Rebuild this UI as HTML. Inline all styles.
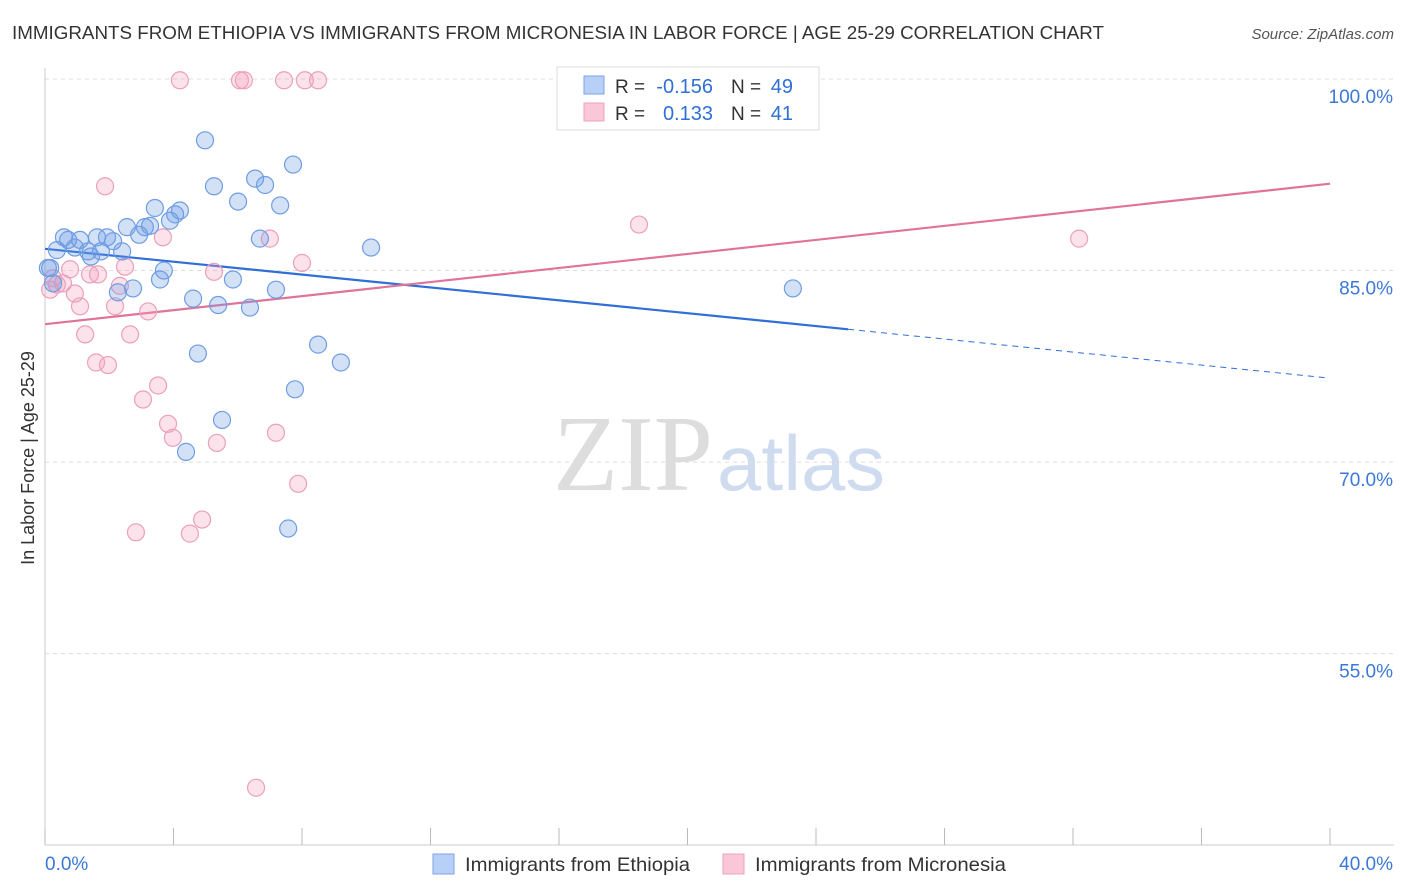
<!DOCTYPE html>
<html><head><meta charset="utf-8"><style>
body{margin:0;background:#fff;font-family:"Liberation Sans",sans-serif;}
svg{display:block}
</style></head><body>
<svg id="chart" width="1406" height="892">
<text x="12" y="39" font-size="18" fill="#333" textLength="1092" lengthAdjust="spacingAndGlyphs">IMMIGRANTS FROM ETHIOPIA VS IMMIGRANTS FROM MICRONESIA IN LABOR FORCE | AGE 25-29 CORRELATION CHART</text>
<text x="1394" y="39" font-size="15" fill="#555" font-style="italic" text-anchor="end">Source: ZipAtlas.com</text>
<text transform="translate(34,458) rotate(-90)" font-size="18" fill="#333" text-anchor="middle">In Labor Force | Age 25-29</text>
<text x="553" y="490" font-size="108" fill="#ddd" font-family="Liberation Serif,serif" textLength="160" lengthAdjust="spacingAndGlyphs">ZIP</text>
<text x="717" y="490" font-size="78" fill="#cfdcf0" textLength="168" lengthAdjust="spacingAndGlyphs">atlas</text>
<g id="grid"></g><g id="axes"></g><g id="trends"></g><g id="pts"></g>
<g>
<rect x="557" y="67" width="262" height="63" fill="#fff" stroke="#ddd"/>
<rect x="584" y="76" width="20" height="18" fill="#b8d0f5" stroke="#7aa4e6"/>
<rect x="584" y="103" width="20" height="18" fill="#f9c7d8" stroke="#eea2bd"/>
<text x="615" y="93" font-size="19" fill="#333">R =</text>
<text x="713" y="93" font-size="20" fill="#2f6fd6" text-anchor="end">-0.156</text>
<text x="731" y="93" font-size="19" fill="#333">N =</text>
<text x="793" y="93" font-size="20" fill="#2f6fd6" text-anchor="end">49</text>
<text x="615" y="120" font-size="19" fill="#333">R =</text>
<text x="713" y="120" font-size="20" fill="#2f6fd6" text-anchor="end">0.133</text>
<text x="731" y="120" font-size="19" fill="#333">N =</text>
<text x="793" y="120" font-size="20" fill="#2f6fd6" text-anchor="end">41</text>
</g>
<g>
<rect x="433" y="854" width="21" height="20" fill="#b8d0f5" stroke="#7aa4e6"/>
<text x="465" y="871" font-size="19.5" fill="#333" textLength="225" lengthAdjust="spacingAndGlyphs">Immigrants from Ethiopia</text>
<rect x="723" y="854" width="21" height="20" fill="#f9c7d8" stroke="#eea2bd"/>
<text x="755" y="871" font-size="19.5" fill="#333" textLength="251" lengthAdjust="spacingAndGlyphs">Immigrants from Micronesia</text>
</g>
</svg>
<script>
const yTicks=[100,85,70,55];
const xTickLabels=["0.0%","40.0%"];
const blueX=[0.16,0.25,0.37,0.59,0.72,0.93,1.09,1.34,1.43,1.62,1.74,1.93,2.12,2.27,2.40,2.55,2.74,2.93,3.11,3.27,3.42,3.58,3.70,3.89,4.05,4.20,4.39,4.61,4.76,4.98,5.26,5.39,5.51,5.85,6.01,6.38,6.54,6.69,6.85,7.19,7.32,7.57,7.72,7.78,8.50,9.21,10.15,23.28,0.09];
const blueY=[85.2,84.0,86.6,87.6,87.4,86.8,87.4,86.5,86.1,87.6,86.5,87.6,87.3,83.3,86.5,88.4,83.6,87.8,88.4,88.5,89.9,84.3,85.0,88.9,89.4,89.7,70.8,82.8,78.5,95.2,91.6,82.3,73.3,84.3,90.4,82.1,92.2,87.5,91.7,83.5,90.1,64.8,93.3,75.7,79.2,77.8,86.8,83.6,85.2];
const pinkX=[0.16,0.25,0.37,0.56,0.78,0.93,1.09,1.25,1.40,1.59,1.65,1.87,1.96,2.18,2.33,2.49,2.65,2.83,3.05,3.21,3.52,3.67,3.83,3.98,4.20,4.51,4.89,5.26,5.35,6.07,6.19,6.57,7.00,7.19,7.44,7.88,8.00,8.09,8.50,18.49,32.19];
const pinkY=[83.5,84.4,83.9,84.0,85.1,83.2,82.2,80.0,84.7,77.8,84.7,91.6,77.6,82.2,83.8,85.3,80.0,64.5,74.9,81.8,76.0,87.6,73.0,71.9,99.9,64.4,65.5,84.9,71.5,99.9,99.9,44.5,87.5,72.3,99.9,68.3,85.6,99.9,99.9,88.6,87.5];
const blueTrend=[0,86.7,25.0,80.4,39.9,76.6];
const pinkTrend=[0,80.8,40,91.8];
const X=v=>45+v*32.125, Y=v=>79+(100-v)*12.77;
const NS="http://www.w3.org/2000/svg";
function mk(t,a,p){const e=document.createElementNS(NS,t);for(const k in a)e.setAttribute(k,a[k]);document.getElementById(p).appendChild(e);return e;}
yTicks.forEach(t=>{
 const l=mk('line',{x1:45,x2:1394,y1:Y(t),y2:Y(t),stroke:'#ddd','stroke-dasharray':'4,4'},'grid');
 
 
 const tx=mk('text',{x:1393,y:Y(t)+24,'font-size':19,fill:'#3b78d8','text-anchor':'end'},'grid');
 tx.textContent=t.toFixed(1)+'%';
 
 
});
const ax=mk('line',{x1:45,x2:1394,y1:845,y2:845,stroke:'#ccc'},'axes');


const ay=mk('line',{x1:45,x2:45,y1:68,y2:845,stroke:'#ccc'},'axes');


for(let i=0;i<=10;i++){const t=mk('line',{x1:X(i*4),x2:X(i*4),y1:828,y2:845,stroke:'#bbb'},'axes');
 
 }
[[0,'start'],[40,'end']].forEach((d,i)=>{const t=mk('text',{x:d[0]?1393:45,y:870,'font-size':19,fill:'#3b78d8','text-anchor':d[1]},'axes');t.textContent=xTickLabels[i];
 
 });
let l=mk('line',{x1:X(blueTrend[0]),y1:Y(blueTrend[1]),x2:X(blueTrend[2]),y2:Y(blueTrend[3]),stroke:'#2f6fd6','stroke-width':2.2},'trends');


l=mk('line',{x1:X(blueTrend[2]),y1:Y(blueTrend[3]),x2:X(blueTrend[4]),y2:Y(blueTrend[5]),stroke:'#2f6fd6','stroke-width':1,'stroke-dasharray':'6,5'},'trends');


l=mk('line',{x1:X(pinkTrend[0]),y1:Y(pinkTrend[1]),x2:X(pinkTrend[2]),y2:Y(pinkTrend[3]),stroke:'#e0739a','stroke-width':2.2},'trends');


pinkX.forEach((x,i)=>{const c=mk('circle',{cx:X(x),cy:Y(pinkY[i]),r:8.5,fill:'rgba(244,160,190,0.3)',stroke:'#eba0bb','stroke-width':1.2},'pts');
 
 });
blueX.forEach((x,i)=>{const c=mk('circle',{cx:X(x),cy:Y(blueY[i]),r:8.5,fill:'rgba(110,155,230,0.3)',stroke:'#6f9de3','stroke-width':1.2},'pts');
 
 });
</script>
</body></html>
